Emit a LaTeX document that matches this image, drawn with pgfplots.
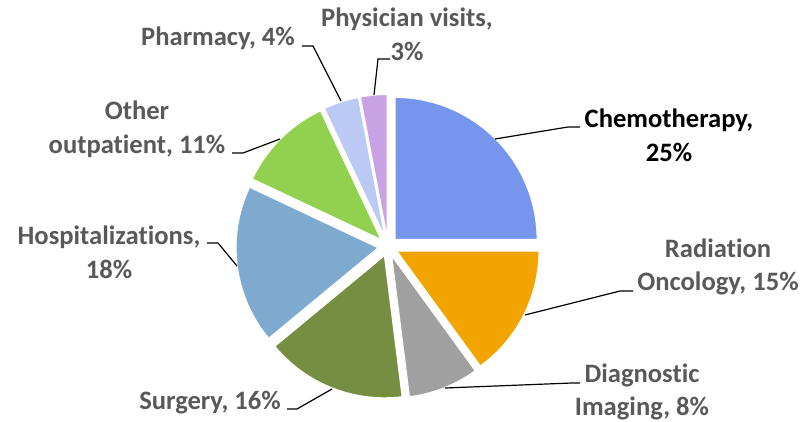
\documentclass[border=0pt]{standalone}
\usepackage{fontspec}
\setmainfont{Carlito}[Ligatures={NoCommon}]
\usepackage{pgfplots}
\usepackage{pgfplotstable}
\pgfplotsset{compat=1.18}

\definecolor{cChemo}{RGB}{118,150,238}
\definecolor{cRad}{RGB}{242,165,0}
\definecolor{cDiag}{RGB}{160,160,160}
\definecolor{cSurg}{RGB}{118,142,66}
\definecolor{cHosp}{RGB}{127,170,207}
\definecolor{cOther}{RGB}{146,208,80}
\definecolor{cPharm}{RGB}{186,202,245}
\definecolor{cPhys}{RGB}{200,162,228}
\definecolor{labgray}{RGB}{89,89,89}

% share of cancer care costs, in percent
\pgfplotstableread{
label value color
Chemotherapy 25 cChemo
Radiation 15 cRad
Diagnostic 8 cDiag
Surgery 16 cSurg
Hospitalizations 18 cHosp
Other 11 cOther
Pharmacy 4 cPharm
Physician 3 cPhys
}\costs

\begin{document}
\begin{tikzpicture}[
    lab/.style={font=\fontsize{13.3}{16.8}\selectfont\bfseries, text=labgray, align=center, inner sep=0pt},
]
\begin{axis}[
    scale only axis,
    width=406pt, height=211pt,
    xmin=0, xmax=812, ymin=0, ymax=422,
    hide axis, clip=false,
]
% keep the whole frame in the bounding box
\path (axis cs:0,0) rectangle (axis cs:812,422);

% wedges, clockwise from 12 o'clock, each pulled out from the centre
\pgfplotstablegetrowsof{\costs}
\pgfmathtruncatemacro\N{\pgfplotsretval-1}
\def\acc{90}
\pgfplotsforeachungrouped \i in {0,...,\N}{
  \pgfplotstablegetelem{\i}{value}\of\costs \let\val\pgfplotsretval
  \pgfplotstablegetelem{\i}{color}\of\costs \let\col\pgfplotsretval
  \pgfmathsetmacro\angA{\acc}
  \pgfmathsetmacro\angB{\acc-3.6*\val}
  \pgfmathsetmacro\angM{(\angA+\angB)/2}
  \pgfmathsetmacro\cx{388+10*cos(\angM)}
  \pgfmathsetmacro\cy{175.5+10*sin(\angM)}
  \edef\temp{\noexpand\fill[fill=\col, draw=white, line width=0.5pt]
    (axis cs:\cx,\cy) -- ++(\angA:71pt) arc[start angle=\angA, end angle=\angB, radius=71pt] -- cycle;}
  \temp
  \global\let\acc\angB
}

% leader lines
\addplot[black, line width=0.6pt] coordinates {(495,283) (568,295) (580,295)};
\addplot[black, line width=0.6pt] coordinates {(525,107) (620,131) (633,131)};
\addplot[black, line width=0.6pt] coordinates {(445,34) (572,39) (580,39)};
\addplot[black, line width=0.6pt] coordinates {(332,33) (297,13) (287,13)};
\addplot[black, line width=0.6pt] coordinates {(237,156) (218,179) (207,179)};
\addplot[black, line width=0.6pt] coordinates {(280,283) (243,269) (232,269)};
\addplot[black, line width=0.6pt] coordinates {(341,321) (313,376) (302,376)};
\addplot[black, line width=0.6pt] coordinates {(374,327) (378,363) (390,363)};

% labels
\node[lab, text=black] at (axis cs:669,287) {Chemotherapy,\\25\%};
\node[lab] at (axis cs:718,155) {Radiation\\Oncology, 15\%};
\node[lab] at (axis cs:642,30) {Diagnostic\\Imaging, 8\%};
\node[lab] at (axis cs:210,19) {Surgery, 16\%};
\node[lab] at (axis cs:109,170) {Hospitalizations,\\18\%};
\node[lab] at (axis cs:137,293) {Other\\outpatient, 11\%};
\node[lab] at (axis cs:218,384) {Pharmacy, 4\%};
\node[lab] at (axis cs:407,388) {Physician visits,\\3\%};
\end{axis}
\end{tikzpicture}
\end{document}
